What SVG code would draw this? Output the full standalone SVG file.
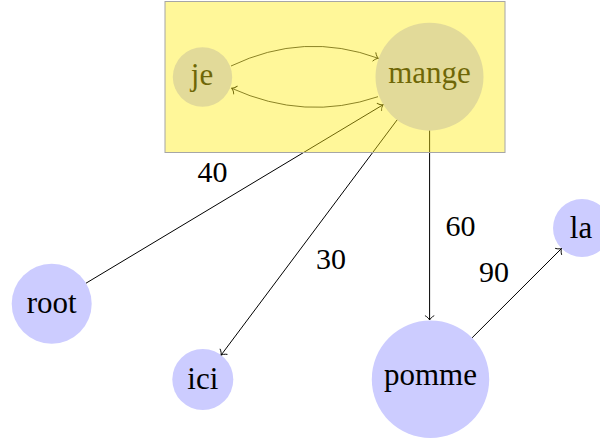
<svg xmlns="http://www.w3.org/2000/svg" width="600" height="438" viewBox="0 0 600 438">
  <style>
    .node { fill: #ccccff; stroke: none; }
    .lbl { font-family: "Liberation Serif", "DejaVu Serif", serif; font-size: 31px; fill: #000; text-anchor: middle; }
    .num { font-family: "Liberation Serif", "DejaVu Serif", serif; font-size: 30px; fill: #000; text-anchor: middle; }
    .edge { fill: none; stroke: #000; stroke-width: 1; marker-end: url(#arr); }
    .bend { fill: none; stroke: #000; stroke-width: 0.8; marker-end: url(#arr); }
  </style>
  <defs>
    <marker id="arr" markerUnits="userSpaceOnUse" markerWidth="12" markerHeight="12" viewBox="-6 -6 12 12" refX="0" refY="0" orient="auto" overflow="visible">
      <path d="M-4.2,-4.3 C-3,-2 -1,-0.5 0,0 C-1,0.5 -3,2 -4.2,4.3" fill="none" stroke="#000" stroke-width="0.9" stroke-linecap="round"/>
    </marker>
  </defs>

  <rect width="600" height="438" fill="#ffffff"/>

  <g id="node-je">
    <circle class="node" cx="202.5" cy="77" r="29.7"/>
    <text class="lbl" x="202" y="85">je</text>
  </g>
  <g id="node-mange">
    <circle class="node" cx="429.5" cy="76.7" r="54"/>
    <text class="lbl" x="429.5" y="82.5">mange</text>
  </g>
  <g id="node-root">
    <circle class="node" cx="51.7" cy="303.8" r="40"/>
    <text class="lbl" x="51.7" y="313.3">root</text>
  </g>
  <g id="node-ici">
    <circle class="node" cx="202.8" cy="379.5" r="30.5"/>
    <text class="lbl" x="202.8" y="389">ici</text>
  </g>
  <g id="node-pomme">
    <circle class="node" cx="430.5" cy="379.3" r="58.7"/>
    <text class="lbl" x="430.5" y="384.5">pomme</text>
  </g>
  <g id="node-la">
    <circle class="node" cx="582" cy="228" r="29"/>
    <text class="lbl" x="581" y="238.3">la</text>
  </g>

  <g id="connectors">
    <path class="bend" d="M231,66 Q304,31 378.3,58.3"/>
    <path class="bend" d="M378,96.7 Q305,121.5 231.7,88.3"/>
    <path class="edge" d="M86,283.2 L383,104.8"/>
    <path class="edge" d="M397.1,119.9 L221.1,355.1"/>
    <path class="edge" d="M429.6,130.7 L429.6,320"/>
    <path class="edge" d="M472.1,337.8 L561.5,248.5"/>
    <text class="num" x="212.5" y="182">40</text>
    <text class="num" x="331" y="269">30</text>
    <text class="num" x="460.5" y="235.7">60</text>
    <text class="num" x="494" y="281.7">90</text>
  </g>

  <g id="group-box">
    <rect x="165" y="1.5" width="340" height="151" fill="rgb(255,237,19)" fill-opacity="0.43" stroke="none"/>
    <rect x="165" y="1.5" width="340" height="151" fill="none" stroke="#a6a6a6" stroke-width="1"/>
  </g>
</svg>
